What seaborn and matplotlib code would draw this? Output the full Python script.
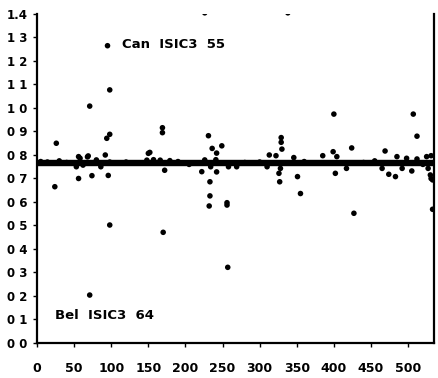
import matplotlib
matplotlib.use("Agg")
import matplotlib.pyplot as plt
import seaborn as sns
import pandas as pd

# observation index and estimated ratio for each country-industry pair
obs_index = [
    5, 14, 24, 26, 30, 40, 53, 56, 56, 58, 62, 68, 69, 71, 71, 74, 80, 84, 86,
    92, 94, 95, 96, 98, 98, 98, 98, 120,
    148, 150, 152, 157, 166, 169, 169, 170, 172, 179, 190,
    205, 222, 226, 226, 231, 232, 233, 233, 234, 236, 241, 242, 242, 249,
    256, 256, 257, 258, 269, 280, 300,
    310, 313, 322, 326, 327, 328, 329, 329, 330, 338, 346, 351, 355, 360,
    385, 399, 400, 402, 404, 417, 424, 427, 440,
    455, 465, 469, 474, 483, 485, 492, 498, 505, 507, 512, 512, 520, 525,
    527, 530, 531, 531, 533, 533,
]
ratio = [
    0.772, 0.770, 0.665, 0.850, 0.775, 0.768, 0.750, 0.700, 0.793, 0.786,
    0.757, 0.792, 0.796, 1.008, 0.204, 0.712, 0.779, 0.765, 0.750,
    0.800, 0.871, 1.265, 0.713, 1.077, 0.888, 0.502, 0.770, 0.770,
    0.778, 0.807, 0.811, 0.780, 0.778, 0.916, 0.895, 0.471, 0.735, 0.776,
    0.772,
    0.760, 0.729, 1.405, 0.779, 0.882, 0.583, 0.626, 0.686, 0.750, 0.828,
    0.780, 0.808, 0.728, 0.839,
    0.597, 0.587, 0.322, 0.750, 0.750, 0.768, 0.770,
    0.750, 0.800, 0.797, 0.722, 0.686, 0.743, 0.874, 0.854, 0.825, 1.405,
    0.789, 0.708, 0.636, 0.772,
    0.797, 0.814, 0.974, 0.722, 0.793, 0.743, 0.830, 0.552, 0.768,
    0.775, 0.743, 0.817, 0.718, 0.708, 0.793, 0.743, 0.786, 0.732, 0.974,
    0.880, 0.783, 0.760, 0.793,
    0.743, 0.715, 0.700, 0.797, 0.569, 0.694,
]
mean_ratio = 0.765

y_ticks = [0.0, 0.1, 0.2, 0.3, 0.4, 0.5, 0.6, 0.7, 0.8, 0.9, 1.0, 1.1, 1.2, 1.3, 1.4]
y_tick_labels = ["0 0", "0 1", "0 2", "0 3", "0 4", "0 5", "0 6", "0 7",
                 "0 8", "0 9", "1 0", "1 1", "1 2", "1 3", "1.4"]
x_ticks = [0, 50, 100, 150, 200, 250, 300, 350, 400, 450, 500]

notes = [("Can  ISIC3  55", 114, 1.272), ("Bel  ISIC3  64", 24, 0.115)]

df = pd.DataFrame({"index": obs_index, "ratio": ratio})

sns.set_theme(style="ticks")
plt.rcParams["font.family"] = ["DejaVu Sans"]

fig = plt.figure(figsize=(4.38, 3.78), dpi=100)
ax = fig.add_axes([0.0845, 0.0926, 0.9065, 0.8704])

ax.axhline(mean_ratio, color="black", lw=4.6, zorder=2)
sns.scatterplot(data=df, x="index", y="ratio", ax=ax, color="black",
                s=16, edgecolor="none", zorder=3, clip_on=True)

ax.set_xlim(0, 535)
ax.set_ylim(0, 1.4)
ax.set_xticks(x_ticks)
ax.set_xticklabels([str(t) for t in x_ticks], fontsize=9, fontweight="bold")
ax.set_yticks(y_ticks)
ax.set_yticklabels(y_tick_labels, fontsize=8.5, fontweight="bold")
ax.set_xlabel("")
ax.set_ylabel("")

for spine in ("left", "bottom", "right"):
    ax.spines[spine].set_linewidth(1.6)
    ax.spines[spine].set_color("black")
ax.spines["top"].set_visible(False)
ax.tick_params(axis="both", direction="out", length=3, width=1, color="black",
               labelcolor="black")
ax.tick_params(axis="x", pad=11)
ax.tick_params(axis="y", pad=4)

for text, xv, yv in notes:
    ax.text(xv, yv, text, fontsize=9.5, fontweight="bold", va="center",
            ha="left", color="black")

fig.savefig("out.png", dpi=100, facecolor="white")
